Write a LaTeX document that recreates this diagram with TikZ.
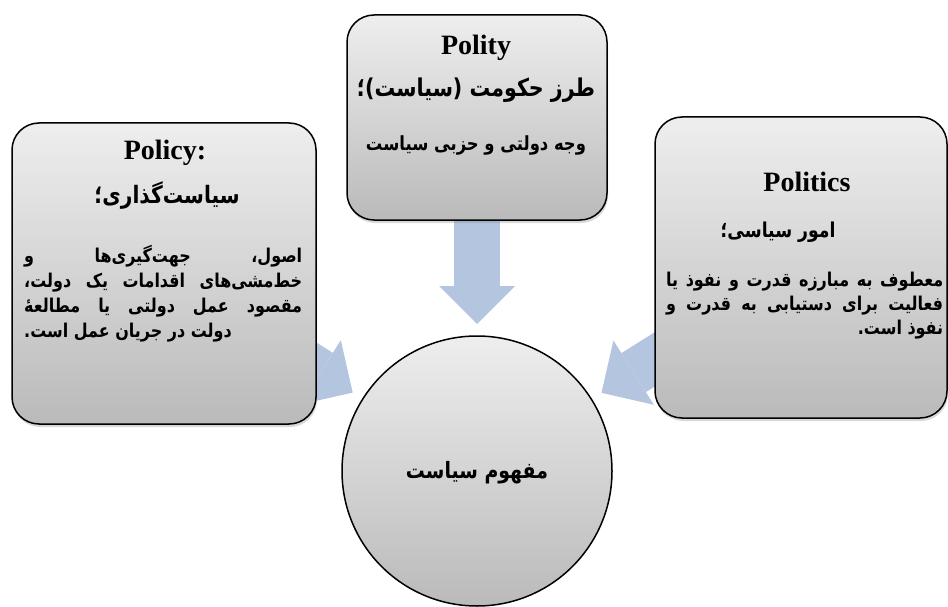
\documentclass[tikz,border=0pt]{standalone}
\usepackage{fontspec}
\setmainfont{Liberation Serif}
\newfontfamily\fa[Script=Arabic,FakeStretch=0.84]{DejaVu Sans}
\TeXXeTstate=1
\usetikzlibrary{arrows.meta,calc,shadows}
\pgfdeclarelayer{background}
\pgfsetlayers{background,main}
\definecolor{arrowblue}{RGB}{180,197,224}
\definecolor{gtop}{RGB}{238,238,238}
\definecolor{gbot}{RGB}{186,186,186}
\begin{document}
\begin{tikzpicture}[x=1pt,y=-1pt,
  box/.style={draw=black, line width=1.5pt, rounded corners=27pt,
    top color=gtop, bottom color=gbot, inner sep=0pt,
    drop shadow={shadow xshift=1pt,shadow yshift=-3pt,opacity=0.3}},
  hub/.style={circle, draw=black, line width=1.5pt, top color=gtop,
    bottom color=gbot, inner sep=0pt, minimum size=270pt},
  bigarrow/.style={draw=arrowblue, line width=46pt,
    -{Triangle[length=38pt,width=76pt,line width=0pt,fill=arrowblue]}},
  entitle/.style={font=\bfseries\fontsize{28}{32}\selectfont, inner sep=0pt, anchor=base},
  fahead/.style={font=\fa\bfseries\fontsize{24}{28}\selectfont, inner sep=0pt, anchor=base},
  fabody/.style={font=\fa\bfseries\fontsize{19}{22}\selectfont, inner sep=0pt, anchor=base west}]
\useasboundingbox (0,0) rectangle (948,607);

% boxes
\node[box, minimum width=304pt, minimum height=301pt] (lbox) at (164,273.5) {};
\node[box, minimum width=260pt, minimum height=205pt] (tbox) at (477,117.5) {};
\node[box, minimum width=292pt, minimum height=301pt] (rbox) at (801,267.5) {};
\node[hub] (circ) at (477,471) {};

% arrows
\begin{pgfonlayer}{background}
\coordinate (ltip) at ($(circ.center)!147pt!(lbox.center)$);
\coordinate (ttip) at ($(circ.center)!147pt!(tbox.center)$);
\coordinate (rtip) at ($(circ.center)!147pt!(rbox.center)$);
\draw[bigarrow] (lbox.center) -- (ltip);
\draw[bigarrow] (tbox.center) -- (ttip);
\draw[bigarrow] (rbox.center) -- (rtip);
\end{pgfonlayer}

% left box text
\node[entitle] (ltitle) at (165,160) {Policy:};
\node[fahead] (lhead) at (167,204) {\beginR سیاست‌گذاری؛\endR};
\node[fabody] (lb1) at (24,262) {\hbox to 278pt{\beginR اصول، جهت‌گیری‌ها و\endR}};
\node[fabody] (lb2) at (24,287) {\hbox to 278pt{\beginR خط‌مشی‌های اقدامات یک دولت،\endR}};
\node[fabody] (lb3) at (24,312) {\hbox to 278pt{\beginR مقصود عمل دولتی یا مطالعهٔ\endR}};
\node[fabody] (lb4) at (24,337) {\hbox to 278pt{\beginR دولت در جریان عمل است.\endR\hfill}};

% top box text
\node[entitle] (ttitle) at (476,55) {Polity};
\node[fahead, font=\fa\bfseries\fontsize{24.5}{28}\selectfont] (thead) at (476,97) {\beginR طرز حکومت (سیاست)؛\endR};
\node[fahead, font=\fa\bfseries\fontsize{19.5}{22}\selectfont] (tbody) at (476,150) {\beginR وجه دولتی و حزبی سیاست\endR};

% right box text
\node[entitle] (rtitle) at (807,192) {Politics};
\node[fahead, font=\fa\bfseries\fontsize{20.5}{24}\selectfont] (rhead) at (778,237) {\beginR امور سیاسی؛\endR};
\node[fabody] (rb1) at (666,286) {\hbox to 277pt{\beginR معطوف به مبارزه قدرت و نفوذ یا\endR}};
\node[fabody] (rb2) at (666,310) {\hbox to 277pt{\beginR فعالیت برای دستیابی به قدرت و\endR}};
\node[fabody] (rb3) at (666,334) {\hbox to 277pt{\hfill\beginR نفوذ است.\endR}};

% circle text
\node[fahead, font=\fa\bfseries\fontsize{22.5}{26}\selectfont] (ctext) at (477,478) {\beginR مفهوم سیاست\endR};
\end{tikzpicture}
\end{document}
